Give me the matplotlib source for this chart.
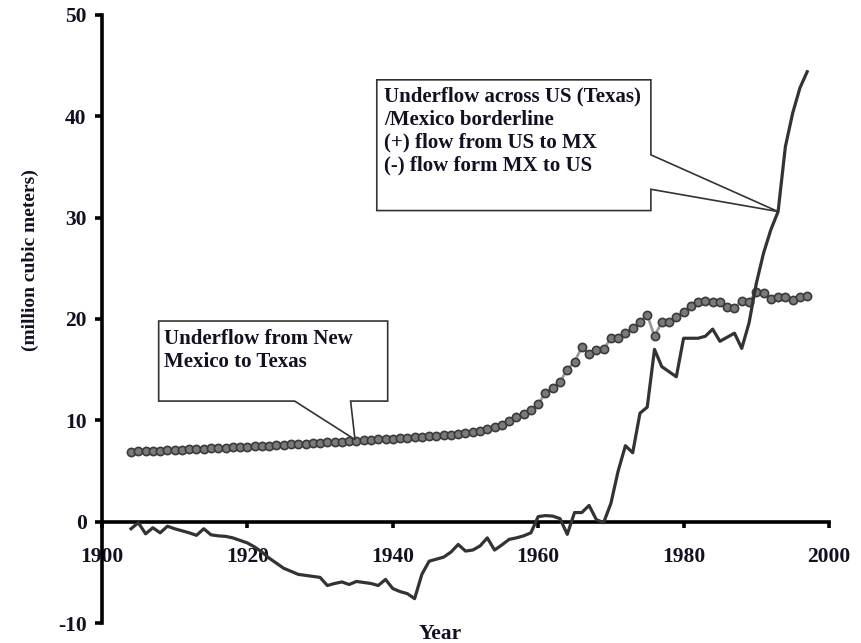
import matplotlib
matplotlib.use('Agg')
import matplotlib.pyplot as plt
from matplotlib.patches import Polygon
import numpy as np

# data
years = list(range(1904, 1998))

nm_to_tx = [
    6.90, 6.93, 6.96, 6.99, 7.02, 7.05, 7.08, 7.11, 7.14, 7.17,
    7.20, 7.23, 7.26, 7.29, 7.32, 7.35, 7.38, 7.42, 7.46, 7.50,
    7.54, 7.58, 7.62, 7.66, 7.70, 7.74, 7.78, 7.82, 7.86, 7.90,
    7.95, 8.00, 8.04, 8.08, 8.12, 8.16, 8.20, 8.25, 8.30, 8.35,
    8.40, 8.45, 8.50, 8.55, 8.60, 8.65, 8.72, 8.80, 8.95, 9.10,
    9.30, 9.55, 9.90, 10.3, 10.6, 11.0, 11.6, 12.7, 13.2, 13.8,
    15.0, 15.8, 17.2, 16.5, 16.9, 17.0, 18.1, 18.1, 18.6, 19.1,
    19.7, 20.4, 18.3, 19.7, 19.7, 20.2, 20.7, 21.3, 21.7, 21.8,
    21.7, 21.7, 21.2, 21.1, 21.8, 21.7, 22.7, 22.6, 22.0, 22.2,
    22.2, 21.9, 22.2, 22.3,
]

us_mx_border = [
    -0.7, -0.1, -1.2, -0.6, -1.1, -0.45, -0.7, -0.9, -1.1, -1.35,
    -0.7, -1.3, -1.4, -1.45, -1.6, -1.85, -2.1, -2.5, -3.0, -3.6,
    -4.1, -4.6, -4.9, -5.2, -5.3, -5.4, -5.5, -6.3, -6.1, -5.95,
    -6.2, -5.9, -6.0, -6.1, -6.3, -5.7, -6.6, -6.9, -7.1, -7.6,
    -5.2, -3.9, -3.7, -3.5, -3.0, -2.25, -2.9, -2.8, -2.4, -1.6,
    -2.8, -2.3, -1.75, -1.6, -1.4, -1.1, 0.5, 0.6, 0.55, 0.3,
    -1.25, 0.9, 0.9, 1.6, 0.2, -0.1, 1.8, 5.0, 7.5, 6.8,
    10.7, 11.3, 17.0, 15.3, 14.8, 14.3, 18.1, 18.1, 18.1, 18.3,
    19.0, 17.8, 18.2, 18.6, 17.1, 19.6, 23.5, 26.5, 28.8, 30.6,
    37.0, 40.3, 42.8, 44.4,
]

x_ticks = [1900, 1920, 1940, 1960, 1980, 2000]
y_ticks = [-10, 0, 10, 20, 30, 40, 50]

label_nm = 'Underflow from New\nMexico to Texas'
label_border = ('Underflow across US (Texas)\n/Mexico borderline\n'
                '(+) flow from US to MX\n(-) flow form MX to US')

plt.rcParams['font.family'] = ['Liberation Serif', 'DejaVu Serif']
plt.rcParams['font.weight'] = 'bold'
plt.rcParams['axes.unicode_minus'] = False
txt = '#111122'

fig = plt.figure(figsize=(8.62, 6.43), dpi=100)
ax = fig.add_axes([0.1183, 0.0311, 0.8434, 0.9456])

ax.plot(years, nm_to_tx, color='#9a9a9a', lw=2, marker='o', ms=5.9,
        mfc='#7a7a7a', mec='#3a3a3a', mew=1.2, zorder=3)
ax.plot(years, us_mx_border, color='#333333', lw=2.3, zorder=4)

ax.set_xlim(1900, 2000)
ax.set_ylim(-10, 50)
ax.spines['top'].set_visible(False)
ax.spines['right'].set_visible(False)
ax.spines['bottom'].set_position(('data', 0))
for s in ('left', 'bottom'):
    ax.spines[s].set_linewidth(2.6)
ax.set_xticks(x_ticks)
ax.set_yticks(y_ticks)
ax.tick_params(axis='x', direction='out', length=4, width=2.6, pad=14,
               labelsize=15.5, labelcolor=txt)
ax.tick_params(axis='y', direction='out', length=5, width=2.6, pad=6,
               labelsize=15.5, labelcolor=txt)

# callout boxes
box1 = [(1907.8, 19.8), (1939.3, 19.8), (1939.3, 11.9), (1934.2, 11.9),
        (1934.8, 8.1), (1926.5, 11.9), (1907.8, 11.9)]
ax.add_patch(Polygon(box1, closed=True, fc='white', ec='#333333', lw=1.2,
                     zorder=5))
ax.text(1908.6, 19.0, label_nm, fontsize=15, color=txt, va='top',
        ha='left', linespacing=1.2, zorder=6)

box2 = [(1937.8, 43.6), (1975.5, 43.6), (1975.5, 36.2), (1993.0, 30.6),
        (1975.5, 32.8), (1975.5, 30.7), (1937.8, 30.7)]
ax.add_patch(Polygon(box2, closed=True, fc='white', ec='#333333', lw=1.2,
                     zorder=5))
ax.text(1938.8, 42.9, label_border, fontsize=15, color=txt, va='top',
        ha='left', linespacing=1.2, zorder=6)

fig.text(30 / 862, 1 - 260 / 643, '(million cubic meters)', rotation=90,
         fontsize=14, color=txt, ha='center', va='center')
fig.text(440 / 862, 1 - 634 / 643, 'Year', fontsize=15.5, color=txt,
         ha='center', va='center')

fig.savefig('out.png', dpi=100)
